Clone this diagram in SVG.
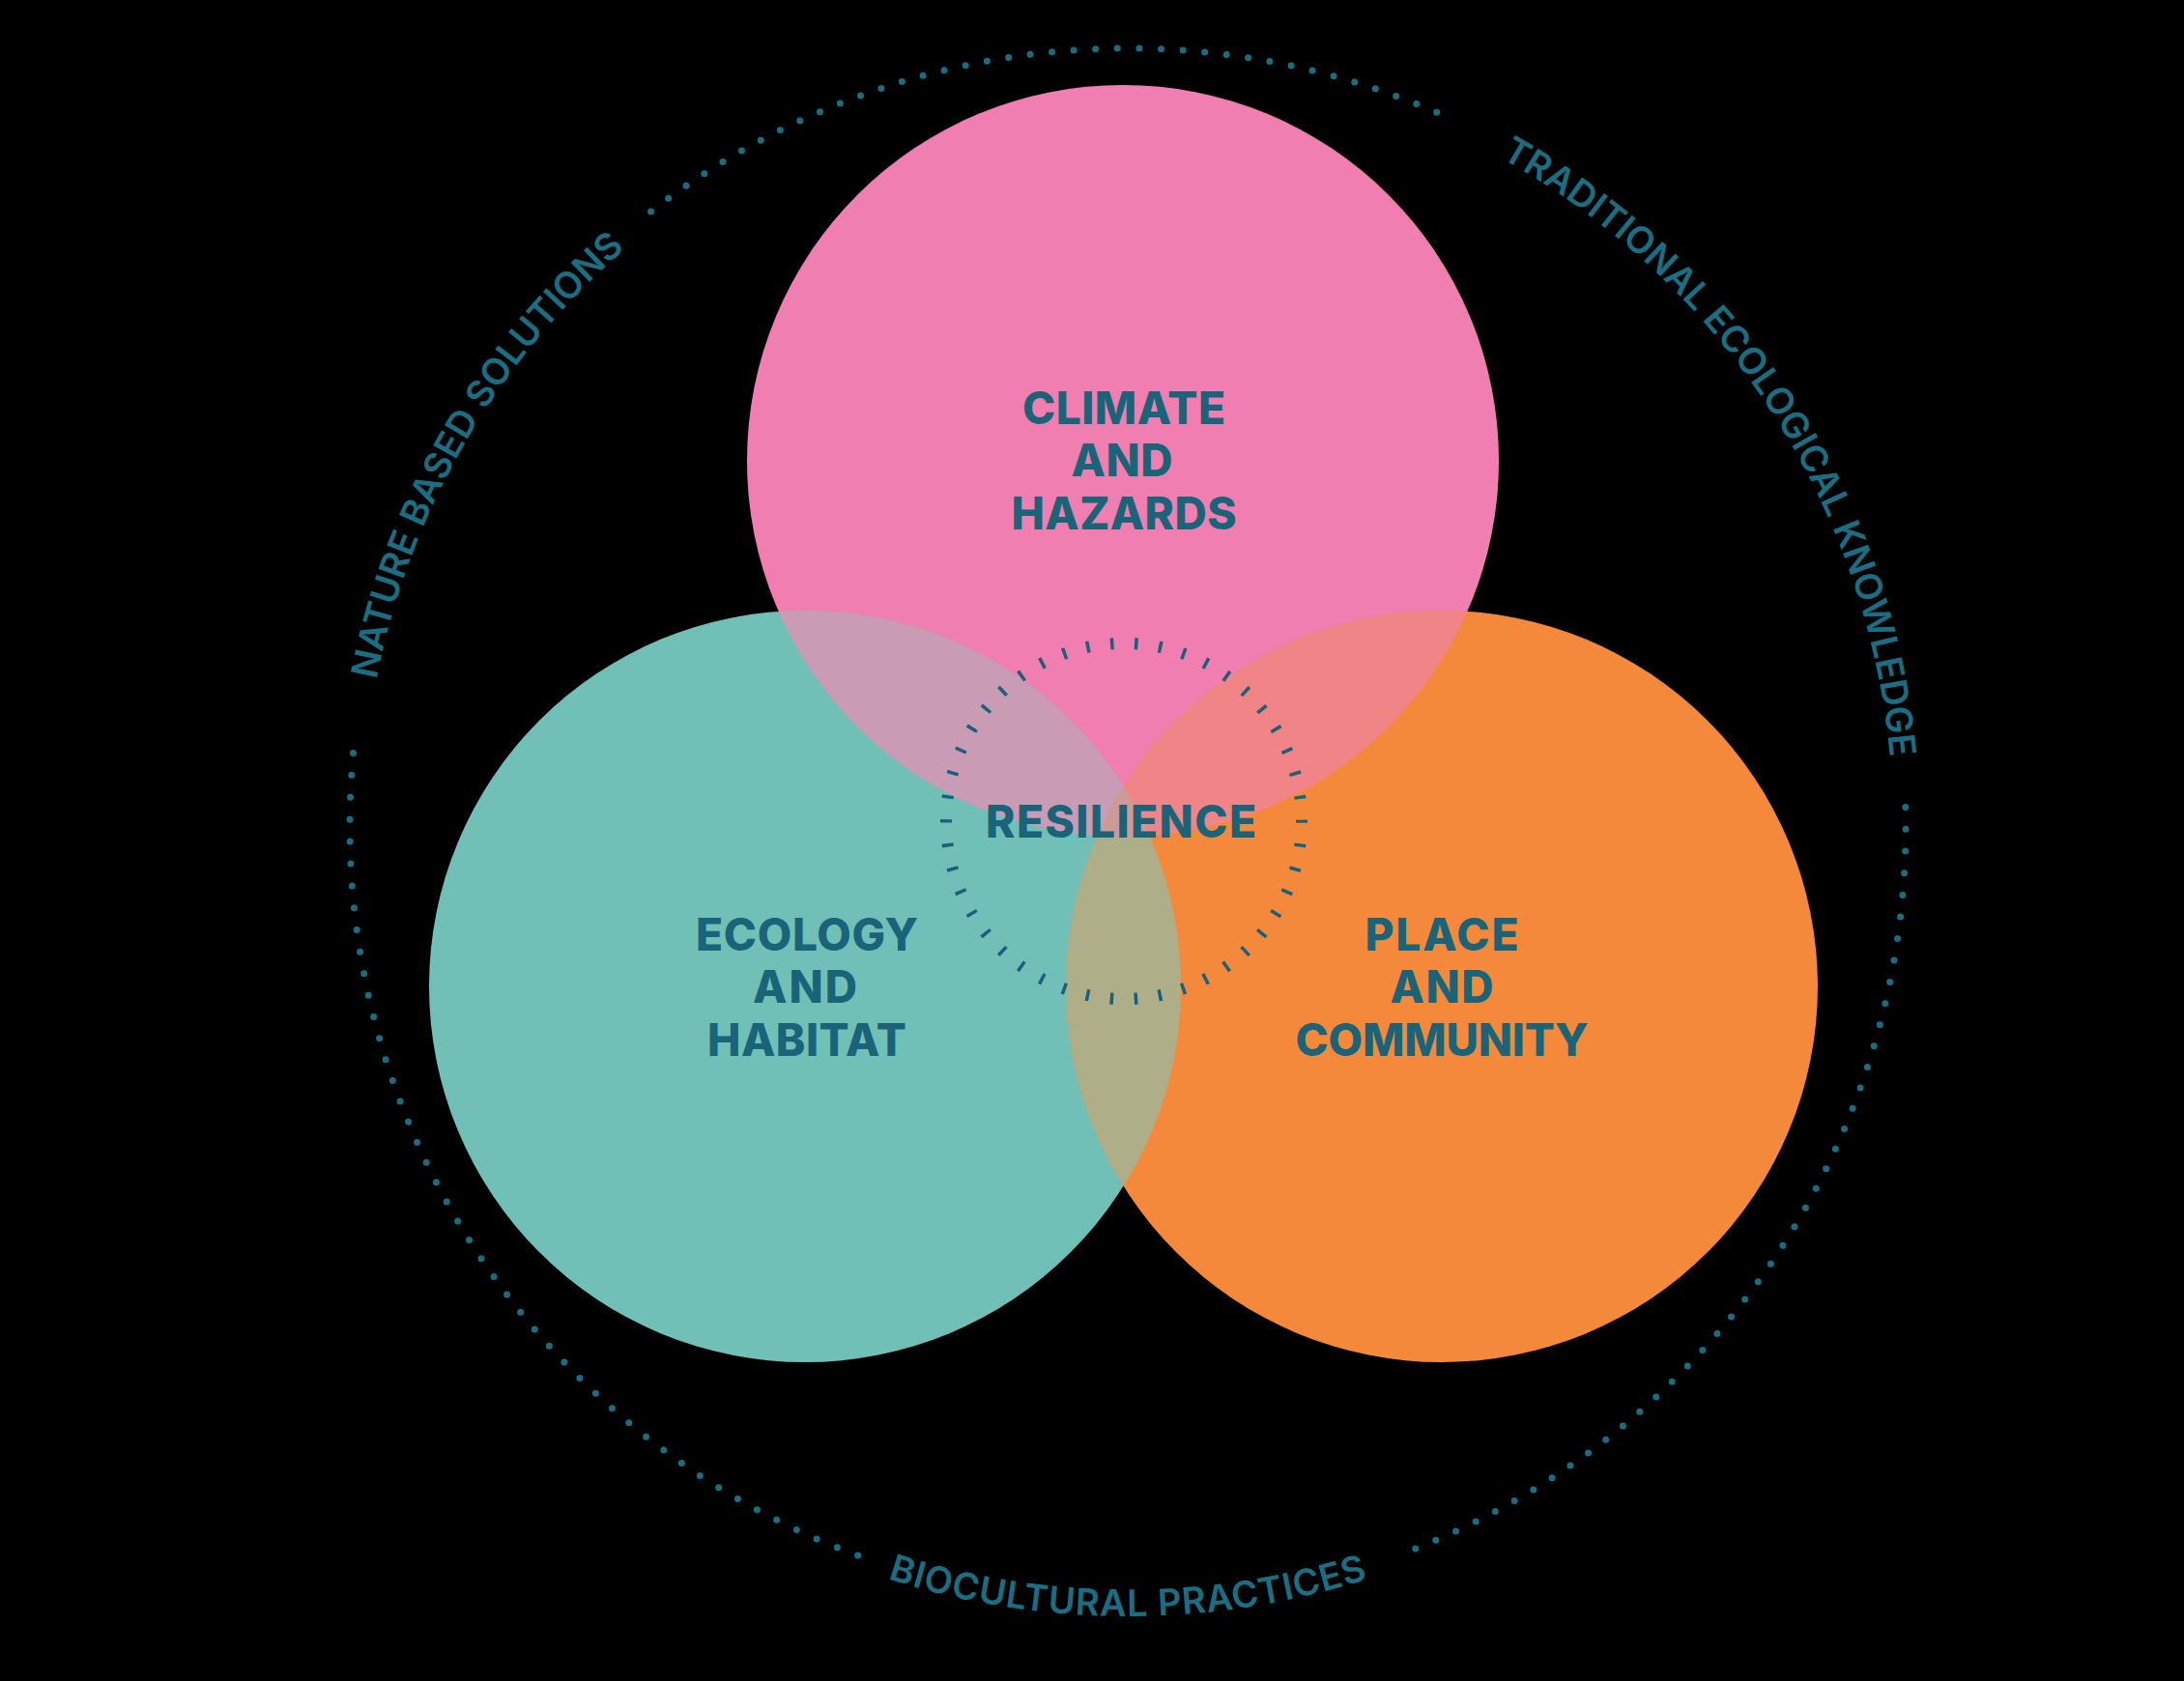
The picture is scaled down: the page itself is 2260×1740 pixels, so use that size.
<svg xmlns="http://www.w3.org/2000/svg" width="2260" height="1740" viewBox="0 0 2260 1740">
  <style>
    .lbl { font-family: Inter, "Noto Sans", "Liberation Sans", sans-serif; font-weight: 800; font-size: 46px; fill: #196478; text-anchor: middle; }
    .outer { font-family: Inter, "Noto Sans", "Liberation Sans", sans-serif; font-weight: 600; font-size: 38px; fill: #1B6E82; text-anchor: middle; }
    .dots { fill: none; stroke: #1A6C80; stroke-width: 7; stroke-linecap: round; }
    .ticks { fill: none; stroke: #19607A; stroke-width: 12; stroke-dasharray: 3.5 21.63; stroke-dashoffset: 1.75; }
  </style>
  <defs>
    <clipPath id="cp-pink"><circle cx="1162" cy="477" r="389"/></clipPath>
    <clipPath id="cp-teal"><circle cx="833" cy="1021" r="389"/></clipPath>
    <clipPath id="cp-orange"><circle cx="1492" cy="1021" r="389"/></clipPath>
    <path id="p-nbs" d="M387.0,992.5 A792,792 0 0 1 896.1,110.8"/>
    <path id="p-tek" d="M1398.6,97.6 A792,792 0 0 1 1953.1,951.5"/>
    <path id="p-bio" d="M641.2,1481.6 A818,818 0 0 0 1692.8,1481.6"/>
  </defs>
  <rect x="0" y="0" width="2260" height="1740" fill="#000000"/>

  <g id="outer-ring">
    <path class="dots" style="stroke-dasharray:0 22.62" d="M673.6,218.9 A805,805 0 0 1 1507.2,125.4"/>
    <path class="dots" style="stroke-dasharray:0 22.77" d="M1971.8,835.4 A805,805 0 0 1 1443.7,1611.0"/>
    <path class="dots" style="stroke-dasharray:0 22.93" d="M887.7,1610.0 A805,805 0 0 1 368.0,756.9"/>
    <text class="outer"><textPath href="#p-nbs" startOffset="50%" textLength="525">NATURE BASED SOLUTIONS</textPath></text>
    <text class="outer"><textPath href="#p-tek" startOffset="50%" textLength="770">TRADITIONAL ECOLOGICAL KNOWLEDGE</textPath></text>
    <text class="outer"><textPath href="#p-bio" startOffset="50%" textLength="505">BIOCULTURAL PRACTICES</textPath></text>
  </g>

  <g id="node-climate">
    <circle cx="1162" cy="477" r="389" fill="#F17EB1"/>
    <text class="lbl" x="1163" y="439" textLength="210">CLIMATE</text>
    <text class="lbl" x="1161" y="493" textLength="105">AND</text>
    <text class="lbl" x="1163" y="548" textLength="233">HAZARDS</text>
  </g>

  <g id="node-ecology">
    <circle cx="833" cy="1021" r="389" fill="#71C0B8"/>
    <text class="lbl" x="835" y="984" textLength="230">ECOLOGY</text>
    <text class="lbl" x="833" y="1038" textLength="108">AND</text>
    <text class="lbl" x="835" y="1093" textLength="206">HABITAT</text>
  </g>

  <g id="node-place">
    <circle cx="1492" cy="1021" r="389" fill="#F5893B"/>
    <text class="lbl" x="1492" y="984" textLength="159">PLACE</text>
    <text class="lbl" x="1492" y="1038" textLength="107">AND</text>
    <text class="lbl" x="1492" y="1093" textLength="303">COMMUNITY</text>
  </g>

  <g id="overlaps">
    <circle cx="833" cy="1021" r="389" fill="#C99BB5" clip-path="url(#cp-pink)"/>
    <circle cx="1492" cy="1021" r="389" fill="#F08486" clip-path="url(#cp-pink)"/>
    <circle cx="1492" cy="1021" r="389" fill="#AEAF88" clip-path="url(#cp-teal)"/>
    <g clip-path="url(#cp-pink)">
      <circle cx="1492" cy="1021" r="389" fill="#CD9A96" clip-path="url(#cp-teal)"/>
    </g>
  </g>

  <g id="node-resilience">
    <circle class="ticks" cx="1163" cy="850" r="184"/>
    <text class="lbl" x="1160" y="867" textLength="280">RESILIENCE</text>
  </g>
</svg>
